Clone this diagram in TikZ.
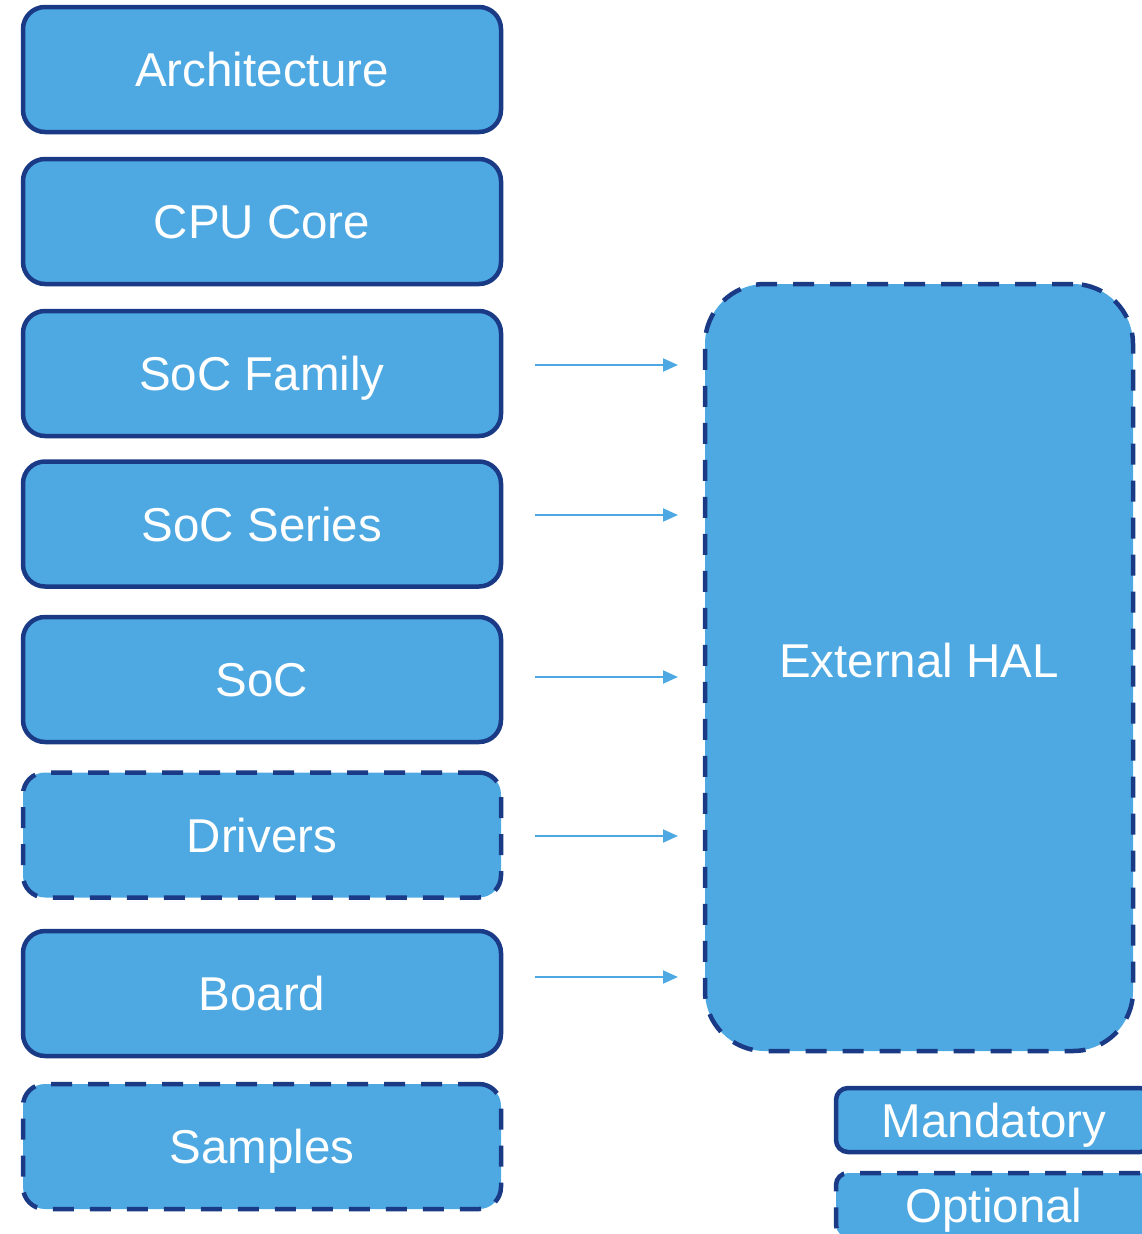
\documentclass[tikz,border=0pt]{standalone}
\usepackage{fontspec}
\setmainfont{Liberation Sans}
\usetikzlibrary{arrows.meta}
\definecolor{boxfill}{HTML}{4EA9E2}
\definecolor{boxline}{HTML}{1A3A85}
\definecolor{arrowc}{HTML}{4EA9E2}
\begin{document}
\begin{tikzpicture}[x=1pt,y=-1pt,
  layer/.style={draw=boxline, fill=boxfill, line width=4.5pt, rounded corners=22pt,
    minimum width=478pt, minimum height=125pt, inner sep=0pt, text=white,
    text height=34pt, text depth=0pt,
    font=\fontsize{47.5}{50}\selectfont},
  optional/.style={dash pattern=on 21pt off 16pt},
  legendbox/.style={draw=boxline, fill=boxfill, line width=4.5pt, rounded corners=12pt,
    minimum width=316pt, minimum height=64pt, inner sep=0pt, text=white,
    text height=34pt, text depth=0pt,
    font=\fontsize{47.5}{50}\selectfont},
  conn/.style={draw=arrowc, line width=2pt, -{Triangle[length=15pt,width=13pt]}}]
\useasboundingbox (0,0) rectangle (1142,1234);
\clip (0,0) rectangle (1142,1234);
\node[layer] (arch) at (262,69.5) {Architecture};
\node[layer] (cpu) at (262,221.5) {CPU Core};
\node[layer] (fam) at (262,373.5) {SoC Family};
\node[layer] (ser) at (262,524) {SoC Series};
\node[layer] (soc) at (262,679.5) {SoC};
\node[layer,optional] (drv) at (262,835) {Drivers};
\node[layer] (brd) at (262,993.5) {Board};
\node[layer,optional] (smp) at (262,1146.5) {Samples};
\node[layer,optional,rounded corners=60pt,minimum width=428pt,minimum height=767pt,
  text depth=15pt] (hal) at (919,667.5) {External HAL};
\node[legendbox] (mand) at (994,1120) {Mandatory};
\node[legendbox,optional] (opt) at (994,1205) {Optional};
\coordinate (a1s) at (535,365); \coordinate (a1e) at (678,365);
\coordinate (a2s) at (535,515); \coordinate (a2e) at (678,515);
\coordinate (a3s) at (535,677); \coordinate (a3e) at (678,677);
\coordinate (a4s) at (535,836); \coordinate (a4e) at (678,836);
\coordinate (a5s) at (535,977); \coordinate (a5e) at (678,977);
\draw[conn] (a1s) -- (a1e);
\draw[conn] (a2s) -- (a2e);
\draw[conn] (a3s) -- (a3e);
\draw[conn] (a4s) -- (a4e);
\draw[conn] (a5s) -- (a5e);
\end{tikzpicture}
\end{document}
